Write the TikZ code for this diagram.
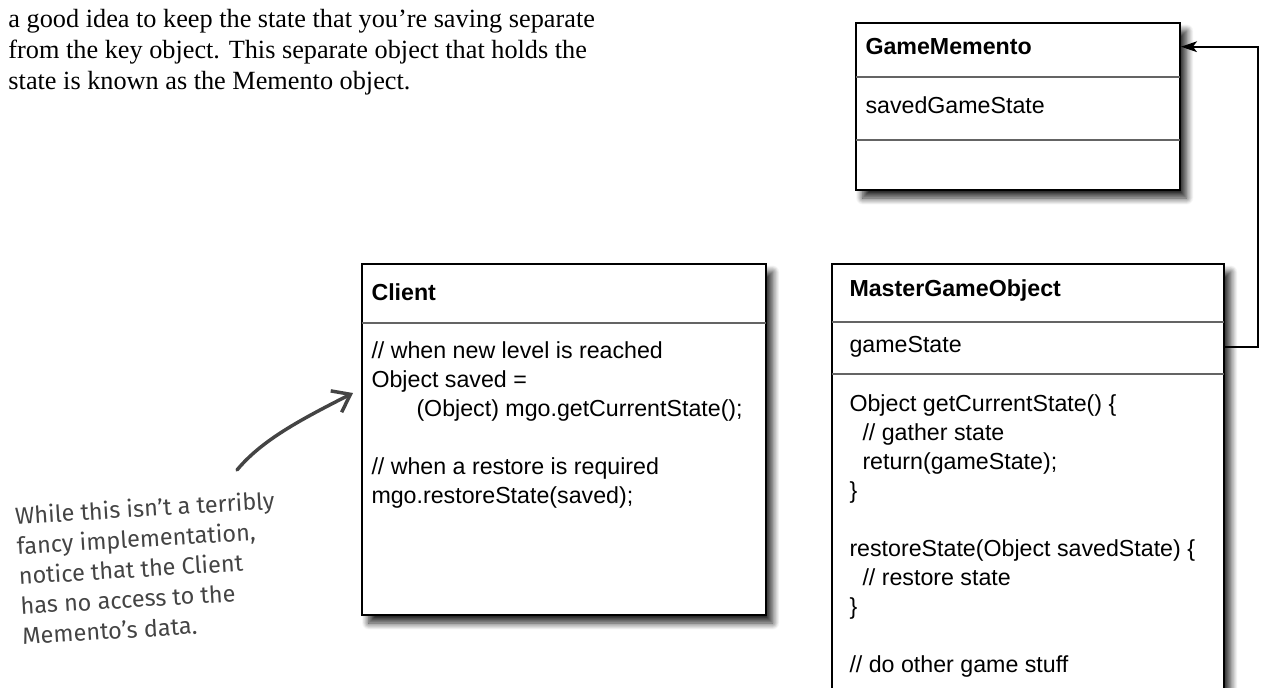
\documentclass[tikz,border=0pt]{standalone}
\usepackage{fontspec}
\setmainfont{Liberation Serif}
\newfontfamily\umlfont{Liberation Sans}
\newfontfamily\notefont{Fira Sans}
\usetikzlibrary{arrows.meta,fit,shadows.blur}

\definecolor{penGray}{RGB}{68,68,68}
\definecolor{lineGray}{RGB}{100,100,100}

\tikzset{every picture/.style={line width=0.75pt}}
\tikzset{
  umlbox/.style={draw=black, line width=1.4pt, fill=white, inner sep=0pt,
    blur shadow={shadow xshift=5pt, shadow yshift=-6pt, shadow blur radius=5pt, shadow blur steps=12, shadow opacity=85}},
  umltext/.style={anchor=north west, inner sep=0pt, align=left, font=\umlfont\fontsize{17.4}{21.75}\selectfont},
  divider/.style={draw=lineGray, line width=0.9pt},
  connector/.style={draw=black, line width=1.6pt, -{Stealth[length=12pt,width=8pt,inset=3pt]}},
  handarrow/.style={draw=penGray, line width=2.6pt, line cap=round, -{Straight Barb[length=12pt,width=18pt,line width=2.6pt]}},
}

\begin{document}
\begin{tikzpicture}[x=0.75pt,y=0.75pt,yscale=-1,xscale=1]
	\useasboundingbox (0,0) rectangle (1283,687);
	
	% Text Node
	\node [anchor=north west, inner sep=0pt, align=left, font=\fontsize{19.7}{23.25}\selectfont] (intro) at (8,9) {a good idea to keep the state that you’re saving separate\\from the key object. This separate object that holds the\\state is known as the Memento object.};
	
	%Shape: Rectangle
	\node [umlbox, fit={(856,23) (1180,190)}] (memento) {};
	\draw [divider] (856,77) -- (1180,77) ;
	\draw [divider] (856,140) -- (1180,140) ;
	% Text Node
	\node [umltext] (mementoname) at (865,38) {\bfseries GameMemento};
	% Text Node
	\node [umltext] (savedstate) at (865,96) {savedGameState};
	
	%Shape: Rectangle
	\node [umlbox, fit={(362,264) (766,615)}] (client) {};
	\draw [divider] (362,323) -- (766,323) ;
	% Text Node
	\node [umltext] (clientname) at (371,283) {\bfseries Client};
	% Text Node
	\node [umltext] (clientbody) at (371,341) {// when new level is reached\\Object saved =\\\hspace*{33.75pt}(Object) mgo.getCurrentState();\\[21.75pt]// when a restore is required\\mgo.restoreState(saved);};
	
	%Shape: Rectangle
	\node [umlbox, fit={(832,264) (1224,705)}] (mgo) {};
	\draw [divider] (832,322) -- (1224,322) ;
	\draw [divider] (832,374) -- (1224,374) ;
	% Text Node
	\node [umltext] (mgoname) at (849,279) {\bfseries MasterGameObject};
	% Text Node
	\node [umltext] (gamestate) at (849,336) {gameState};
	% Text Node
	\node [umltext] (mgobody) at (849,394) {Object getCurrentState() \{\\\hspace*{9.75pt}// gather state\\\hspace*{9.75pt}return(gameState);\\\}\\[21.75pt]restoreState(Object savedState) \{\\\hspace*{9.75pt}// restore state\\\}\\[21.75pt]// do other game stuff};
	
	%Straight Lines
	\draw [connector] (mgo.east |- gamestate.center) -- ++(33,0) |- (memento.east |- mementoname.center) ;
	
	% Text Node
	\node [anchor=north west, inner sep=0pt, align=left, rotate=3.5, text=penGray, font=\notefont\fontsize{17.6}{22.5}\selectfont] (note) at (14,506) {While this isn’t a terribly\\fancy implementation,\\notice that the Client\\has no access to the\\Memento’s data.};
	
	%Curve Lines
	\coordinate (notetip) at (237,470);
	\coordinate (clienttip) at (353,393);
	\draw [handarrow] (notetip) .. controls (262,440) and (300,420) .. (clienttip) ;
	
\end{tikzpicture}
\end{document}
